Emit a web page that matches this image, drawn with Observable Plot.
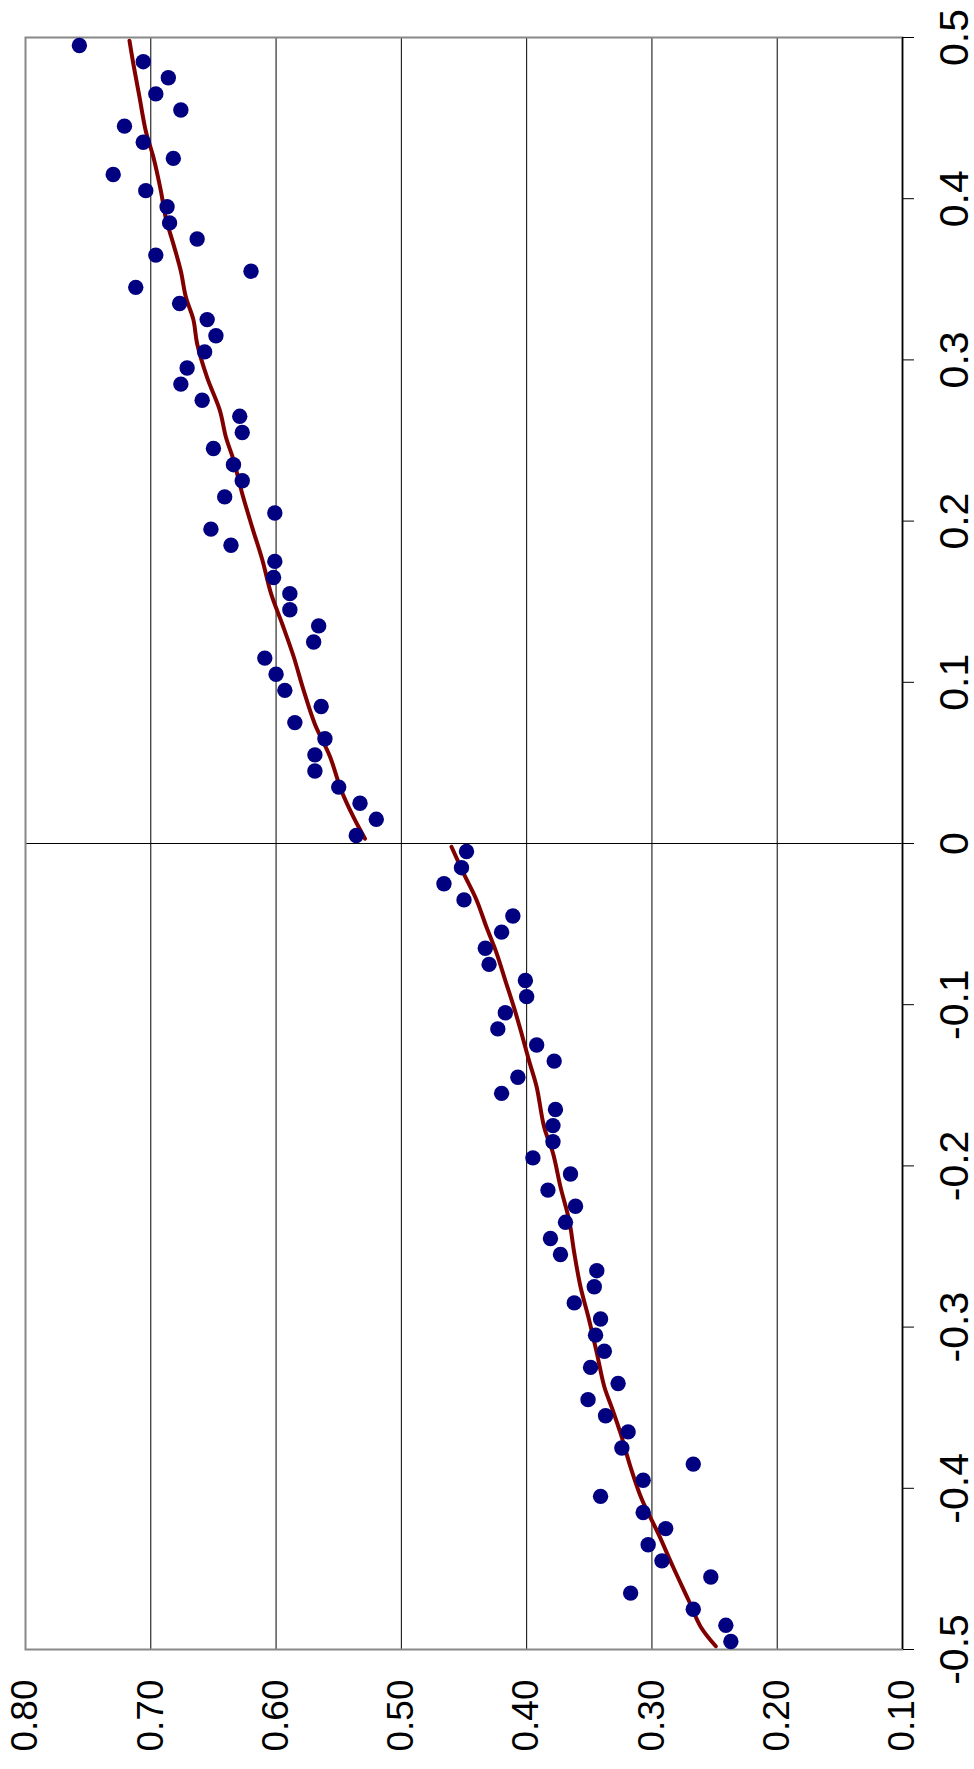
<!DOCTYPE html>
<html>
<head>
<meta charset="utf-8">
<script src="https://cdn.jsdelivr.net/npm/d3@7"></script>
<script src="https://cdn.jsdelivr.net/npm/@observablehq/plot@0.6"></script>
<style>
  html, body { margin: 0; padding: 0; background: #fff; overflow: hidden; }
</style>
</head>
<body>
<div id="chart"></div>
<script>
// Positions (original horizontal axis, drawn vertically here)
const positions = [
  -0.495, -0.485, -0.475, -0.465, -0.455, -0.445, -0.435, -0.425, -0.415, -0.405,
  -0.395, -0.385, -0.375, -0.365, -0.355, -0.345, -0.335, -0.325, -0.315, -0.305,
  -0.295, -0.285, -0.275, -0.265, -0.255, -0.245, -0.235, -0.225, -0.215, -0.205,
  -0.195, -0.185, -0.175, -0.165, -0.155, -0.145, -0.135, -0.125, -0.115, -0.105,
  -0.095, -0.085, -0.075, -0.065, -0.055, -0.045, -0.035, -0.025, -0.015, -0.005,
  0.005, 0.015, 0.025, 0.035, 0.045, 0.055, 0.065, 0.075, 0.085, 0.095,
  0.105, 0.115, 0.125, 0.135, 0.145, 0.155, 0.165, 0.175, 0.185, 0.195,
  0.205, 0.215, 0.225, 0.235, 0.245, 0.255, 0.265, 0.275, 0.285, 0.295,
  0.305, 0.315, 0.325, 0.335, 0.345, 0.355, 0.365, 0.375, 0.385, 0.395,
  0.405, 0.415, 0.425, 0.435, 0.445, 0.455, 0.465, 0.475, 0.485, 0.495
];
// Observed values (dots)
const observed = [
  0.237, 0.241, 0.267, 0.317, 0.253, 0.292, 0.303, 0.289, 0.307, 0.341,
  0.307, 0.267, 0.324, 0.319, 0.337, 0.351, 0.327, 0.349, 0.338, 0.345,
  0.341, 0.362, 0.346, 0.344, 0.373, 0.381, 0.369, 0.361, 0.383, 0.365,
  0.395, 0.379, 0.379, 0.377, 0.420, 0.407, 0.378, 0.392, 0.423, 0.417,
  0.400, 0.401, 0.430, 0.433, 0.420, 0.411, 0.450, 0.466, 0.452, 0.448,
  0.536, 0.520, 0.533, 0.550, 0.569, 0.569, 0.561, 0.585, 0.564, 0.593,
  0.600, 0.609, 0.570, 0.566, 0.589, 0.589, 0.602, 0.601, 0.636, 0.652,
  0.601, 0.641, 0.627, 0.634, 0.650, 0.627, 0.629, 0.659, 0.676, 0.671,
  0.657, 0.648, 0.655, 0.677, 0.712, 0.620, 0.696, 0.663, 0.685, 0.687,
  0.704, 0.730, 0.682, 0.706, 0.721, 0.676, 0.696, 0.686, 0.706, 0.757
];
// Fitted curve, lower branch (negative positions)
const fitLowPos = [
  -0.498, -0.486, -0.469, -0.449, -0.428, -0.407, -0.387, -0.366, -0.350, -0.337,
  -0.316, -0.296, -0.275, -0.254, -0.234, -0.213, -0.192, -0.176, -0.151, -0.135,
  -0.118, -0.102, -0.085, -0.068, -0.052, -0.035, -0.019, -0.002
];
const fitLowVal = [
  0.249, 0.261, 0.271, 0.283, 0.295, 0.308, 0.317, 0.325, 0.332, 0.338,
  0.344, 0.350, 0.357, 0.362, 0.366, 0.373, 0.379, 0.386, 0.392, 0.398,
  0.404, 0.410, 0.417, 0.424, 0.432, 0.440, 0.450, 0.460
];
// Fitted curve, upper branch (positive positions)
const fitHighPos = [
  0.003, 0.016, 0.033, 0.054, 0.074, 0.095, 0.116, 0.136, 0.155, 0.176,
  0.196, 0.217, 0.238, 0.252, 0.269, 0.289, 0.310, 0.325, 0.339, 0.355,
  0.372, 0.388, 0.405, 0.426, 0.442, 0.463, 0.484, 0.498
];
const fitHighVal = [
  0.529, 0.538, 0.548, 0.557, 0.569, 0.578, 0.586, 0.595, 0.604, 0.611,
  0.619, 0.627, 0.634, 0.640, 0.645, 0.655, 0.663, 0.666, 0.672, 0.676,
  0.682, 0.688, 0.692, 0.698, 0.704, 0.709, 0.714, 0.717
];
// Tick values and labels
const valueTicks = [0.80, 0.70, 0.60, 0.50, 0.40, 0.30, 0.20, 0.10];
const valueLabels = ["0.80", "0.70", "0.60", "0.50", "0.40", "0.30", "0.20", "0.10"];
const gridValues = [0.70, 0.60, 0.50, 0.40, 0.30, 0.20];
const posTicks = [0.5, 0.4, 0.3, 0.2, 0.1, 0, -0.1, -0.2, -0.3, -0.4, -0.5];
const posLabels = ["0.5", "0.4", "0.3", "0.2", "0.1", "0", "-0.1", "-0.2", "-0.3", "-0.4", "-0.5"];

const dots = positions.map((p, i) => ({p, v: observed[i]}));
const fit = [
  ...fitLowPos.map((p, i) => ({p, v: fitLowVal[i], seg: "low"})),
  ...fitHighPos.map((p, i) => ({p, v: fitHighVal[i], seg: "high"}))
];
const valTickData = valueTicks.map((v, i) => ({v, label: valueLabels[i]}));
const posTickData = posTicks.map((p, i) => ({p, label: posLabels[i]}));

const chart = Plot.plot({
  width: 974,
  height: 1769,
  marginTop: 37,
  marginBottom: 120,
  marginLeft: 25,
  marginRight: 72,
  style: {background: "#fff", overflow: "visible"},
  x: {domain: [0.1, 0.8], reverse: true, axis: null},
  y: {domain: [-0.5, 0.5], axis: null},
  marks: [
    Plot.ruleX(gridValues, {stroke: "#000", strokeWidth: 1}),
    Plot.ruleY([0], {stroke: "#000", strokeWidth: 1.2}),
    Plot.frame({stroke: "#888", strokeWidth: 2}),
    Plot.ruleX([0.1], {stroke: "#000", strokeWidth: 1.5}),
    Plot.axisY({anchor: "right", ticks: posTicks, tickSize: 11, tickFormat: () => "", stroke: "#000", strokeWidth: 1, label: null}),
    Plot.line(fit, {x: "v", y: "p", z: "seg", stroke: "#800000", strokeWidth: 4, curve: "catmull-rom"}),
    Plot.dot(dots, {x: "v", y: "p", r: 7.7, fill: "#000080", stroke: null}),
    Plot.text(valTickData, {
      x: "v", text: "label", frameAnchor: "bottom", dy: 66, rotate: -90,
      textAnchor: "middle", lineAnchor: "middle",
      fontSize: 37, fontFamily: "'Liberation Sans', Arial, sans-serif", fill: "#000"
    }),
    Plot.text(posTickData, {
      y: "p", text: "label", frameAnchor: "right", dx: 52, rotate: -90,
      textAnchor: "middle", lineAnchor: "middle",
      fontSize: 41, fontFamily: "'Liberation Sans Narrow', 'Liberation Sans', Arial, sans-serif", fill: "#000"
    })
  ]
});
document.getElementById("chart").appendChild(chart);
</script>
</body>
</html>
